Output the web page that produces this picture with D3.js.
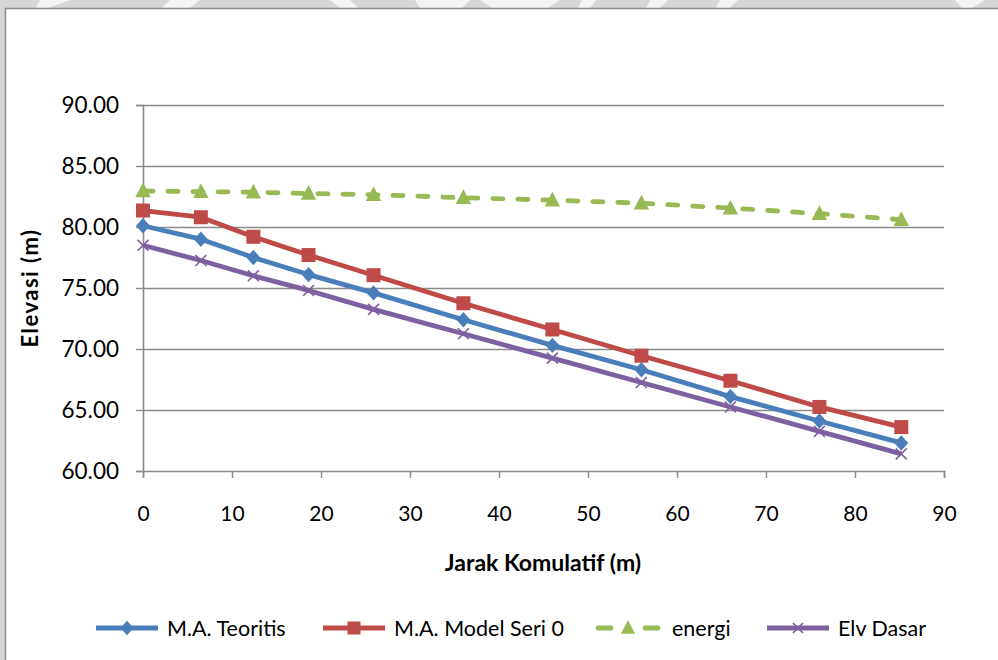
<!DOCTYPE html>
<html>
<head>
<meta charset="utf-8">
<script src="https://cdn.jsdelivr.net/npm/d3@7"></script>
<style>
  html, body { margin: 0; padding: 0; background: #d6d6d6; }
  svg { display: block; }
  text { font-family: Lato, "Noto Sans", sans-serif; fill: #000; }
</style>
</head>
<body>
<svg id="chart" width="998" height="660"></svg>
<script>
// Cumulative distance along the channel (m)
const jarak = [0, 6.5, 12.4, 18.6, 25.9, 36.0, 46.0, 56.0, 66.0, 76.0, 85.2];

// Elevations (m) for each series
const teoritis   = [80.1, 79.0, 77.5, 76.1, 74.6, 72.4, 70.3, 68.3, 66.1, 64.1, 62.3];
const modelSeri0 = [81.35, 80.8, 79.2, 77.7, 76.05, 73.75, 71.6, 69.45, 67.4, 65.25, 63.6];
const energi     = [82.95, 82.9, 82.85, 82.75, 82.65, 82.4, 82.2, 81.95, 81.55, 81.1, 80.6];
const elvDasar   = [78.5, 77.25, 76.0, 74.8, 73.25, 71.25, 69.25, 67.25, 65.25, 63.25, 61.4];

const seriesNames = ["M.A. Teoritis", "M.A. Model  Seri 0", "energi", "Elv Dasar"];
const xTicks = [0, 10, 20, 30, 40, 50, 60, 70, 80, 90];
const yTicks = [60, 65, 70, 75, 80, 85, 90];

const series = [
  { name: seriesNames[0], values: teoritis,   color: "#4a7ebb", marker: "diamond",  dash: null },
  { name: seriesNames[1], values: modelSeri0, color: "#be4b48", marker: "square",   dash: null },
  { name: seriesNames[2], values: energi,     color: "#98b954", marker: "triangle", dash: "10,15" },
  { name: seriesNames[3], values: elvDasar,   color: "#7d60a0", marker: "cross",    dash: null }
];

const svg = d3.select("#chart");

// light backdrop strip and a few pale shapes above the chart frame
const bg = svg.append("g");
bg.append("rect").attr("x", 0).attr("y", 0).attr("width", 998).attr("height", 660).attr("fill", "#d6d6d6");
const pale = [[40,0,70,0,48,8,36,8],[170,0,200,0,190,8,162,8],[330,0,350,0,358,8,340,8],[415,0,470,0,462,8,420,8],
              [480,0,560,0,548,8,492,8],[582,0,596,0,590,8,578,8],[650,0,668,0,660,8,646,8],[720,0,738,0,730,8,716,8],[955,0,985,0,972,8,962,8]];
bg.selectAll("polygon.pale").data(pale).join("polygon")
  .attr("points", d => `${d[0]},${d[1]} ${d[2]},${d[3]} ${d[4]},${d[5]} ${d[6]},${d[7]}`)
  .attr("fill", "#f4f4f4");

// chart frame
svg.append("rect")
  .attr("x", 5.5).attr("y", 8.5).attr("width", 1000).attr("height", 660)
  .attr("fill", "#ffffff").attr("stroke", "#8c8c8c").attr("stroke-width", 1.5);

const x = d3.scaleLinear().domain([0, 90]).range([143, 944]);
const y = d3.scaleLinear().domain([60, 90]).range([471, 105]);

const gridColor = "#8a8a8a";

// horizontal gridlines
svg.append("g").selectAll("line").data(yTicks.filter(v => v > 60)).join("line")
  .attr("x1", x(0)).attr("x2", x(90))
  .attr("y1", d => Math.round(y(d)) + 0.5).attr("y2", d => Math.round(y(d)) + 0.5)
  .attr("stroke", gridColor).attr("stroke-width", 1.6);

// y axis
const yAxis = svg.append("g")
  .attr("transform", `translate(${x(0)},0)`)
  .call(d3.axisLeft(y).tickValues(yTicks).tickFormat(d3.format(".2f")).tickSize(7).tickPadding(17));
// x axis
const xAxis = svg.append("g")
  .attr("transform", `translate(0,${y(60)})`)
  .call(d3.axisBottom(x).tickValues(xTicks).tickFormat(d3.format("d")).tickSize(7).tickPadding(28));

[yAxis, xAxis].forEach(g => {
  g.select(".domain").attr("stroke", gridColor).attr("stroke-width", 1.6);
  g.selectAll(".tick line").attr("stroke", gridColor).attr("stroke-width", 1.4);
  g.selectAll(".tick text").style("font-family", "Lato, 'Noto Sans', sans-serif").attr("fill", "#000");
});
yAxis.selectAll(".tick text").style("font-size", "22.5px");
xAxis.selectAll(".tick text").style("font-size", "21px");

// axis titles
svg.append("text")
  .attr("transform", "translate(38,288) rotate(-90)")
  .attr("text-anchor", "middle")
  .style("font-size", "22px").style("font-weight", "bold")
  .style("letter-spacing", "1.5px")
  .text("Elevasi (m)");
svg.append("text")
  .attr("x", 543).attr("y", 571)
  .attr("text-anchor", "middle")
  .style("font-size", "23px").style("font-weight", "bold")
  .text("Jarak Komulatif (m)");

// marker shapes
function drawMarker(g, type, color, size) {
  const s = size;
  if (type === "diamond") {
    g.append("path").attr("d", `M0,${-s*0.55} L${s*0.5},0 L0,${s*0.55} L${-s*0.5},0 Z`).attr("fill", color);
  } else if (type === "square") {
    g.append("rect").attr("x", -s/2).attr("y", -s/2).attr("width", s).attr("height", s).attr("fill", color);
  } else if (type === "triangle") {
    g.append("path").attr("d", `M0,${-s*0.6} L${s*0.55},${s*0.45} L${-s*0.55},${s*0.45} Z`).attr("fill", color);
  } else if (type === "cross") {
    const h = s * 0.42;
    g.append("path").attr("d", `M${-h},${-h} L${h},${h} M${h},${-h} L${-h},${h}`)
      .attr("stroke", color).attr("stroke-width", 1.6).attr("fill", "none");
  }
}

const line = d3.line().x((d, i) => x(jarak[i])).y(d => y(d));

series.forEach(s => {
  svg.append("path")
    .datum(s.values)
    .attr("d", line)
    .attr("fill", "none")
    .attr("stroke", s.color)
    .attr("stroke-width", 4.8)
    .attr("stroke-linejoin", "round")
    .attr("stroke-linecap", s.dash ? "round" : "butt")
    .attr("stroke-dasharray", s.dash);
});
series.forEach(s => {
  const g = svg.append("g");
  s.values.forEach((v, i) => {
    const m = g.append("g").attr("transform", `translate(${x(jarak[i])},${y(v)})`);
    drawMarker(m, s.marker, s.color, s.marker === "cross" ? 13 : 14);
  });
});

// legend
const legendX = [96, 323, 597, 767];
const legend = svg.append("g");
series.forEach((s, i) => {
  const g = legend.append("g").attr("transform", `translate(${legendX[i]},628)`);
  // dashed series get one short dash on each side of the marker
  const segs = s.dash ? [[1, 14], [48, 61]] : [[0, 62]];
  segs.forEach(([a, b]) => {
    g.append("line").attr("x1", a).attr("x2", b).attr("y1", 0).attr("y2", 0)
      .attr("stroke", s.color).attr("stroke-width", 4.8)
      .attr("stroke-linecap", s.dash ? "round" : "butt");
  });
  const m = g.append("g").attr("transform", "translate(31,0)");
  drawMarker(m, s.marker, s.color, s.marker === "cross" ? 12 : 13);
  g.append("text").attr("x", s.dash ? 75 : 71).attr("y", 8)
    .style("font-size", "21.5px")
    .text(s.name);
});
</script>
</body>
</html>
